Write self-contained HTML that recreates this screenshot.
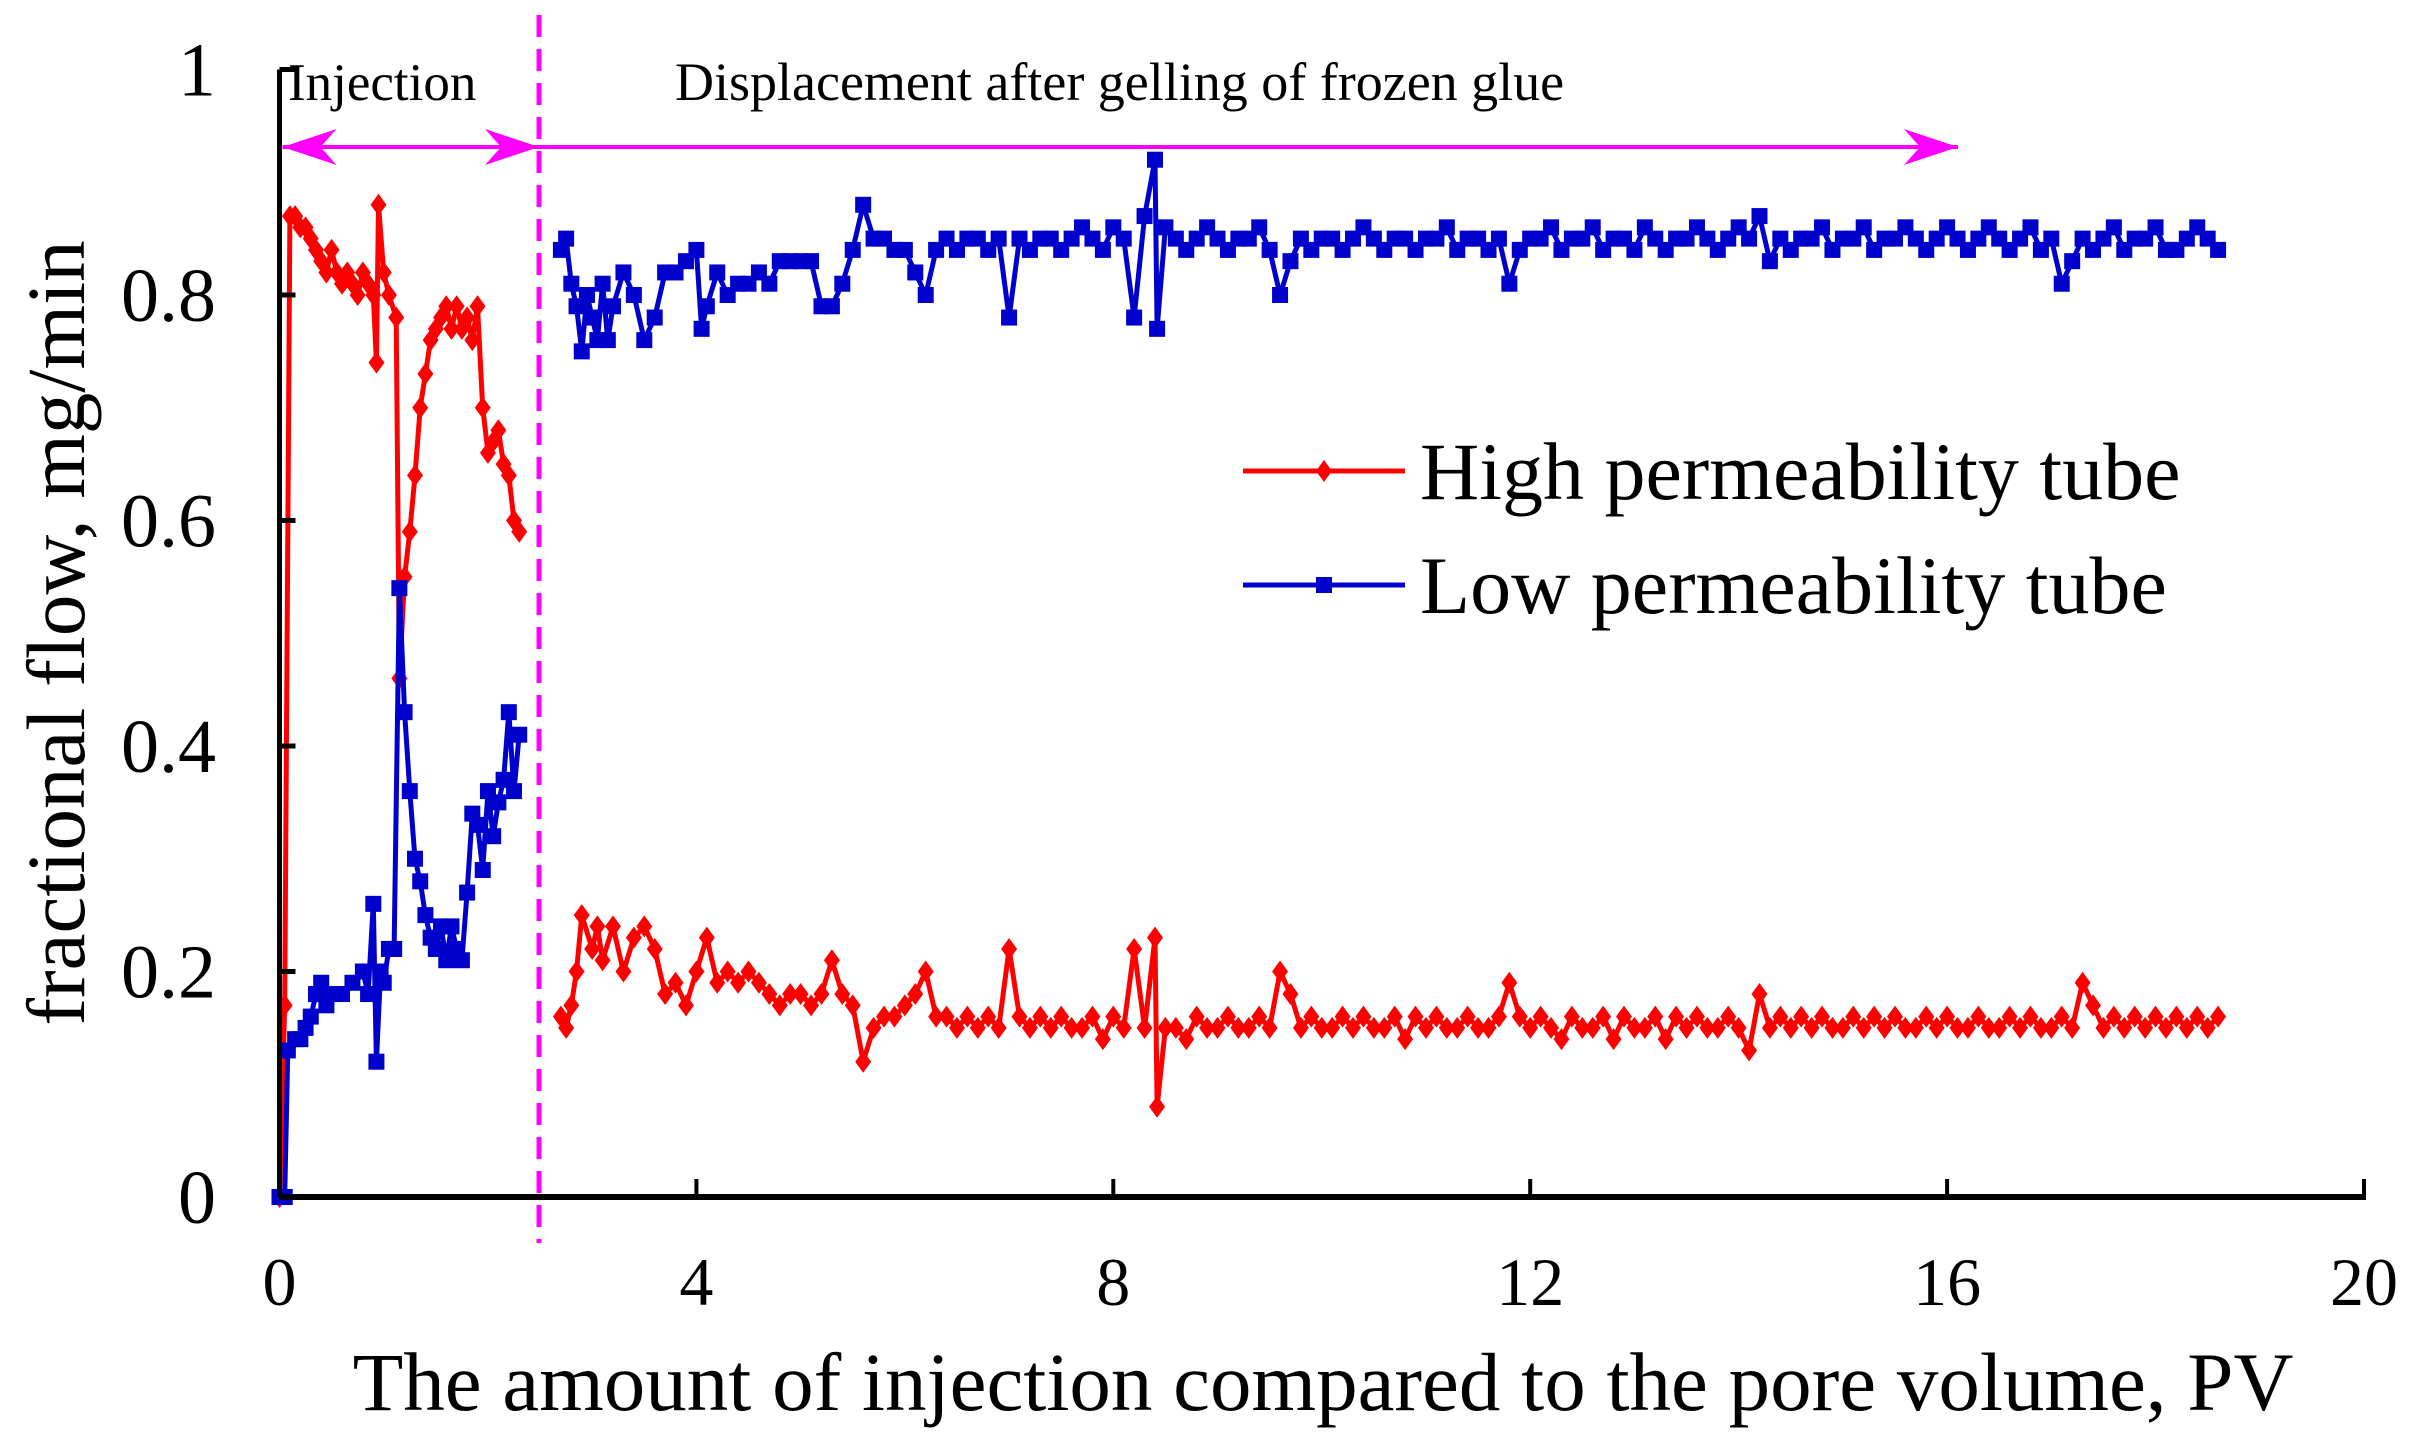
<!DOCTYPE html>
<html><head><meta charset="utf-8"><style>
html,body{margin:0;padding:0;background:#fff;}
svg{display:block;font-family:"Liberation Serif",serif;}
</style></head><body>
<svg id="chart" width="2409" height="1439" viewBox="0 0 2409 1439">
<g id="marks"></g>
</svg>
<script>
const xTicks=[0,4,8,12,16,20];
const yTicks=[0,0.2,0.4,0.6,0.8,1];
const yTickLabels=["0","0.2","0.4","0.6","0.8","1"];
const xTickLabels=["0","4","8","12","16","20"];
const phaseBoundary=2.49;
const redX=[0,0.05,0.1,0.15,0.2,0.25,0.3,0.35,0.4,0.45,0.5,0.55,0.6,0.65,0.7,0.75,0.8,0.85,0.9,0.93,0.95,1.0,1.05,1.12,1.15,1.2,1.25,1.3,1.35,1.4,1.45,1.5,1.55,1.6,1.65,1.7,1.75,1.8,1.85,1.9,1.95,2.0,2.05,2.1,2.15,2.2,2.25,2.3,
2.7,2.75,2.8,2.85,2.9,3.0,3.05,3.1,3.2,3.3,3.4,3.5,3.6,3.7,3.8,3.9,4.0,4.1,4.2,4.3,4.4,4.5,4.6,4.7,4.8,4.9,5.0,5.1,5.2,5.3,5.4,5.5,5.6,5.7,5.8,5.9,6.0,6.1,6.2,6.3,
6.4,6.5,6.6,6.7,6.8,6.9,7.0,7.1,7.2,7.3,7.4,7.5,7.6,7.7,7.8,7.9,8.0,8.1,8.2,8.3,8.4,8.42,8.5,8.6,8.7,8.8,8.9,9.0,9.1,9.2,9.3,9.4,9.5,9.6,9.7,9.8,9.9,10.0,10.1,10.2,10.3,10.4,10.5,10.6,10.7,10.8,10.9,11.0,11.1,11.2,11.3,11.4,11.5,11.6,11.7,11.8,11.9,12.0,12.1,12.2,12.3,12.4,12.5,12.6,12.7,12.8,12.9,13.0,13.1,13.2,13.3,13.4,13.5,13.6,13.7,13.8,13.9,14.0,14.1,14.2,14.3,14.4,14.5,14.6,14.7,14.8,14.9,15.0,15.1,15.2,15.3,15.4,15.5,15.6,15.7,15.8,15.9,16.0,16.1,16.2,16.3,16.4,16.5,16.6,16.7,16.8,16.9,17.0,17.1,17.2,17.3,17.4,17.5,17.6,17.7,17.8,17.9,18.0,18.1,18.2,18.3,18.4,18.5,18.6];
const redY=[0,0.17,0.87,0.87,0.86,0.86,0.85,0.84,0.83,0.82,0.84,0.82,0.81,0.82,0.81,0.80,0.82,0.81,0.80,0.74,0.88,0.82,0.80,0.78,0.46,0.55,0.59,0.64,0.70,0.73,0.76,0.77,0.78,0.79,0.77,0.79,0.77,0.78,0.76,0.79,0.70,0.66,0.67,0.68,0.65,0.64,0.60,0.59,
0.16,0.15,0.17,0.20,0.25,0.22,0.24,0.21,0.24,0.20,0.23,0.24,0.22,0.18,0.19,0.17,0.20,0.23,0.19,0.20,0.19,0.20,0.19,0.18,0.17,0.18,0.18,0.17,0.18,0.21,0.18,0.17,0.12,0.15,0.16,0.16,0.17,0.18,0.20,0.16,
0.16,0.15,0.16,0.15,0.16,0.15,0.22,0.16,0.15,0.16,0.15,0.16,0.15,0.15,0.16,0.14,0.16,0.15,0.22,0.15,0.23,0.08,0.15,0.15,0.14,0.16,0.15,0.15,0.16,0.15,0.15,0.16,0.15,0.20,0.18,0.15,0.16,0.15,0.15,0.16,0.15,0.16,0.15,0.15,0.16,0.14,0.16,0.15,0.16,0.15,0.15,0.16,0.15,0.15,0.16,0.19,0.16,0.15,0.16,0.15,0.14,0.16,0.15,0.15,0.16,0.14,0.16,0.15,0.15,0.16,0.14,0.16,0.15,0.16,0.15,0.15,0.16,0.15,0.13,0.18,0.15,0.16,0.15,0.16,0.15,0.16,0.15,0.15,0.16,0.15,0.16,0.15,0.16,0.15,0.15,0.16,0.15,0.16,0.15,0.15,0.16,0.15,0.15,0.16,0.15,0.16,0.15,0.15,0.16,0.15,0.19,0.17,0.15,0.16,0.15,0.16,0.15,0.16,0.15,0.16,0.15,0.16,0.15,0.16];
const blueX=[0,0.05,0.08,0.15,0.2,0.25,0.3,0.35,0.4,0.45,0.5,0.6,0.7,0.8,0.85,0.9,0.93,0.97,1.0,1.05,1.1,1.15,1.2,1.25,1.3,1.35,1.4,1.45,1.5,1.55,1.6,1.65,1.7,1.75,1.8,1.85,1.9,1.95,2.0,2.05,2.1,2.15,2.2,2.25,2.3,
2.7,2.75,2.8,2.85,2.9,2.95,3.0,3.05,3.1,3.15,3.2,3.3,3.4,3.5,3.6,3.7,3.8,3.9,4.0,4.05,4.1,4.2,4.3,4.4,4.5,4.6,4.7,4.8,4.9,5.0,5.1,5.2,5.3,5.4,5.5,5.6,5.7,5.8,5.9,6.0,6.1,6.2,6.3,
6.4,6.5,6.6,6.7,6.8,6.9,7.0,7.1,7.2,7.3,7.4,7.5,7.6,7.7,7.8,7.9,8.0,8.1,8.2,8.3,8.4,8.42,8.5,8.6,8.7,8.8,8.9,9.0,9.1,9.2,9.3,9.4,9.5,9.6,9.7,9.8,9.9,10.0,10.1,10.2,10.3,10.4,10.5,10.6,10.7,10.8,10.9,11.0,11.1,11.2,11.3,11.4,11.5,11.6,11.7,11.8,11.9,12.0,12.1,12.2,12.3,12.4,12.5,12.6,12.7,12.8,12.9,13.0,13.1,13.2,13.3,13.4,13.5,13.6,13.7,13.8,13.9,14.0,14.1,14.2,14.3,14.4,14.5,14.6,14.7,14.8,14.9,15.0,15.1,15.2,15.3,15.4,15.5,15.6,15.7,15.8,15.9,16.0,16.1,16.2,16.3,16.4,16.5,16.6,16.7,16.8,16.9,17.0,17.1,17.2,17.3,17.4,17.5,17.6,17.7,17.8,17.9,18.0,18.1,18.2,18.3,18.4,18.5,18.6];
const blueY=[0,0,0.13,0.14,0.14,0.15,0.16,0.18,0.19,0.17,0.18,0.18,0.19,0.20,0.18,0.26,0.12,0.20,0.19,0.22,0.22,0.54,0.43,0.36,0.30,0.28,0.25,0.23,0.22,0.24,0.21,0.24,0.22,0.21,0.27,0.34,0.33,0.29,0.36,0.32,0.35,0.37,0.43,0.36,0.41,
0.84,0.85,0.81,0.79,0.75,0.80,0.78,0.76,0.81,0.76,0.79,0.82,0.80,0.76,0.78,0.82,0.82,0.83,0.84,0.77,0.79,0.82,0.80,0.81,0.81,0.82,0.81,0.83,0.83,0.83,0.83,0.79,0.79,0.81,0.84,0.88,0.85,0.85,0.84,0.84,0.82,0.80,0.84,
0.85,0.84,0.85,0.85,0.84,0.85,0.78,0.85,0.84,0.85,0.85,0.84,0.85,0.86,0.85,0.84,0.86,0.85,0.78,0.87,0.92,0.77,0.86,0.85,0.84,0.85,0.86,0.85,0.84,0.85,0.85,0.86,0.84,0.80,0.83,0.85,0.84,0.85,0.85,0.84,0.85,0.86,0.85,0.84,0.85,0.85,0.84,0.85,0.85,0.86,0.84,0.85,0.85,0.84,0.85,0.81,0.84,0.85,0.85,0.86,0.84,0.85,0.85,0.86,0.84,0.85,0.85,0.84,0.86,0.85,0.84,0.85,0.85,0.86,0.85,0.84,0.85,0.86,0.85,0.87,0.83,0.85,0.84,0.85,0.85,0.86,0.84,0.85,0.85,0.86,0.84,0.85,0.85,0.86,0.85,0.84,0.85,0.86,0.85,0.84,0.85,0.86,0.85,0.84,0.85,0.86,0.84,0.85,0.81,0.83,0.85,0.84,0.85,0.86,0.84,0.85,0.85,0.86,0.84,0.84,0.85,0.86,0.85,0.84];

const NS="http://www.w3.org/2000/svg";
const X0=279.5,X1=2364,Y0=1197,Y1=69.5;
function sx(v){return X0+(v-0)/(20-0)*(X1-X0);}
function sy(v){return Y0-(v-0)/(1-0)*(Y0-Y1);}
const svg=document.getElementById('chart');
function mk(tag,attrs,parent){const e=document.createElementNS(NS,tag);for(const k in attrs)e.setAttribute(k,attrs[k]);(parent||svg).appendChild(e);return e;}

function drawSeries(xs,ys,color,name,shape){
  const g=mk('g',{});
  
  
  const n=Math.min(xs.length,ys.length);
  let segs=[[]];
  for(let i=0;i<n;i++){
    if(i>0 && xs[i]-xs[i-1]>0.3) segs.push([]);
    segs[segs.length-1].push(sx(xs[i]).toFixed(1)+','+sy(ys[i]).toFixed(1));
  }
  segs.forEach(s=>{
    const pl=mk('polyline',{points:s.join(' '),fill:'none',stroke:color,'stroke-width':5,'stroke-linejoin':'round'},g);
    
    
  });
  for(let i=0;i<n;i++){
    const cx=sx(xs[i]),cy=sy(ys[i]);
    let m;
    if(shape==='diamond') m=mk('polygon',{points:`${cx},${cy-11} ${cx+8},${cy} ${cx},${cy+11} ${cx-8},${cy}`,fill:color},g);
    else m=mk('rect',{x:cx-8,y:cy-8,width:16,height:16,fill:color},g);
    
    
  }
}
drawSeries(redX,redY,'#ff0000','high-permeability','diamond');
drawSeries(blueX,blueY,'#0000cc','low-permeability','square');

let ax=mk('line',{x1:X0,y1:Y1,x2:X0,y2:Y0,stroke:'#000','stroke-width':5});

ax=mk('line',{x1:X0,y1:Y0,x2:X1+2,y2:Y0,stroke:'#000','stroke-width':6});

yTicks.forEach((v,i)=>{
  const t=mk('line',{x1:X0,y1:sy(v),x2:X0+16,y2:sy(v),stroke:'#000','stroke-width':5});
  
  const l=mk('text',{x:216,y:sy(v)+26,'text-anchor':'end','font-size':76});
  l.textContent=yTickLabels[i];
  
});
xTicks.forEach((v,i)=>{
  const t=mk('line',{x1:sx(v),y1:Y0,x2:sx(v),y2:Y0-18,stroke:'#000','stroke-width':4});
  
  const l=mk('text',{x:sx(v),y:1305,'text-anchor':'middle','font-size':68});
  l.textContent=xTickLabels[i];
  
});

const bx=sx(phaseBoundary);
let d=mk('line',{x1:bx,y1:15,x2:bx,y2:1243,stroke:'#ff00ff','stroke-width':5,'stroke-dasharray':'22 12'});

function arrow(x1,x2,both,name){
  const g=mk('g',{});
  
  const y=147;
  mk('line',{x1:x1,y1:y,x2:x2,y2:y,stroke:'#ff00ff','stroke-width':4},g);
  mk('polygon',{points:`${x2},${y} ${x2-54},${y-18} ${x2-38},${y} ${x2-54},${y+18}`,fill:'#ff00ff'},g);
  if(both) mk('polygon',{points:`${x1},${y} ${x1+54},${y-18} ${x1+38},${y} ${x1+54},${y+18}`,fill:'#ff00ff'},g);
}
arrow(X0+3,bx,true,'injection-arrow');
arrow(bx,1958,false,'displacement-arrow');
let t=mk('text',{x:288,y:100,'font-size':53});t.textContent='Injection';

t=mk('text',{x:675,y:100,'font-size':54});t.textContent='Displacement after gelling of frozen glue';


t=mk('text',{x:1323,y:1410,'text-anchor':'middle','font-size':83});t.textContent='The amount of injection compared to the pore volume, PV';

t=mk('text',{x:0,y:0,'text-anchor':'middle','font-size':83,transform:'translate(84,633) rotate(-90)'});t.textContent='fractional flow, mg/min';


function legend(y,color,label,shape,name){
  const g=mk('g',{});
  
  mk('line',{x1:1243,y1:y,x2:1405,y2:y,stroke:color,'stroke-width':5},g);
  const cx=1324;
  if(shape==='diamond') mk('polygon',{points:`${cx},${y-11} ${cx+8},${y} ${cx},${y+11} ${cx-8},${y}`,fill:color},g);
  else mk('rect',{x:cx-8,y:y-8,width:16,height:16,fill:color},g);
  const tx=mk('text',{x:1420,y:y+28,'font-size':82},g);tx.textContent=label;
}
legend(471,'#ff0000','High permeability tube','diamond','legend-entry-high');
legend(585,'#0000cc','Low permeability tube','square','legend-entry-low');
</script>
</body></html>
